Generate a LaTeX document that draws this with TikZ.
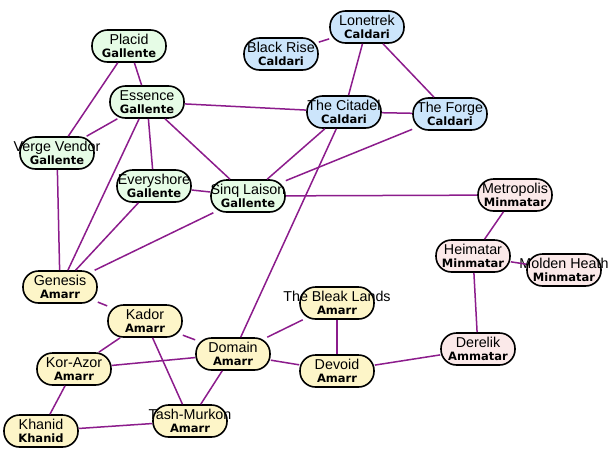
\documentclass[tikz,border=0pt]{standalone}
\usepackage{fontspec}
\setmainfont{Liberation Sans}
\newfontfamily\dvfont{DejaVu Sans}
\newcommand\zc[1]{\makebox[0pt]{#1}}
\newcommand\sys[2]{\zc{#1}\\[-1.5pt]\zc{\dvfont\bfseries\fontsize{11.5}{13}\selectfont #2}}
\definecolor{gfill}{HTML}{E6FCE6}
\definecolor{bfill}{HTML}{CCE5FB}
\definecolor{pfill}{HTML}{FBE9E9}
\definecolor{yfill}{HTML}{FDF5C8}
\definecolor{edgec}{RGB}{140,28,140}
\tikzset{
  sysbox/.style={draw=black, line width=1.6pt, rounded corners=15.5pt,
    minimum width=74pt, minimum height=32pt, inner sep=0pt, align=center,
    font=\fontsize{14.3}{14.5}\selectfont},
  gal/.style={sysbox, fill=gfill},
  cal/.style={sysbox, fill=bfill},
  minm/.style={sysbox, fill=pfill},
  amr/.style={sysbox, fill=yfill},
  link/.style={draw=edgec, line width=1.5pt}
}
\begin{document}
\begin{tikzpicture}[x=1pt,y=-1pt]
\useasboundingbox[fill=white] (0,0) rectangle (608,453);
% Gallente
\node[gal] (placid) at (129,46) {\sys{Placid}{Gallente}};
\node[gal] (essence) at (147,102) {\sys{Essence}{Gallente}};
\node[gal] (verge) at (57,153) {\sys{Verge Vendor}{Gallente}};
\node[gal] (every) at (154,186) {\sys{Everyshore}{Gallente}};
\node[gal] (sinq) at (248,196) {\sys{Sinq Laison}{Gallente}};
% Caldari
\node[cal] (lone) at (367,27) {\sys{Lonetrek}{Caldari}};
\node[cal] (black) at (281,54) {\sys{Black Rise}{Caldari}};
\node[cal] (citadel) at (344,112) {\sys{The Citadel}{Caldari}};
\node[cal] (forge) at (450,114) {\sys{The Forge}{Caldari}};
% Minmatar
\node[minm] (metro) at (515,195) {\sys{Metropolis}{Minmatar}};
\node[minm] (heim) at (473,256) {\sys{Heimatar}{Minmatar}};
\node[minm] (molden) at (564,270) {\sys{Molden Heath}{Minmatar}};
\node[minm] (derelik) at (478,349) {\sys{Derelik}{Ammatar}};
% Amarr
\node[amr] (genesis) at (60,287) {\sys{Genesis}{Amarr}};
\node[amr] (kador) at (145,321) {\sys{Kador}{Amarr}};
\node[amr] (korazor) at (74,369) {\sys{Kor-Azor}{Amarr}};
\node[amr] (khanid) at (41,431) {\sys{Khanid}{Khanid}};
\node[amr] (tash) at (190,421) {\sys{Tash-Murkon}{Amarr}};
\node[amr] (domain) at (233,354) {\sys{Domain}{Amarr}};
\node[amr] (bleak) at (337,303) {\sys{The Bleak Lands}{Amarr}};
\node[amr] (devoid) at (337,371) {\sys{Devoid}{Amarr}};
% Edges
\draw[link] (placid) -- (essence);
\draw[link] (placid) -- (verge);
\draw[link] (essence) -- (verge);
\draw[link] (essence) -- (citadel);
\draw[link] (essence) -- (every);
\draw[link] (essence) -- (sinq);
\draw[link] (essence) -- (genesis);
\draw[link] (verge) -- (genesis);
\draw[link] (every) -- (sinq);
\draw[link] (every) -- (genesis);
\draw[link] (sinq) -- (genesis);
\draw[link] (sinq) -- (citadel);
\draw[link] (sinq) -- (forge);
\draw[link] (sinq) -- (metro);
\draw[link] (lone) -- (black);
\draw[link] (lone) -- (citadel);
\draw[link] (lone) -- (forge);
\draw[link] (citadel) -- (forge);
\draw[link] (citadel) -- (domain);
\draw[link] (metro) -- (heim);
\draw[link] (heim) -- (molden);
\draw[link] (heim) -- (derelik);
\draw[link] (genesis) -- (kador);
\draw[link] (kador) -- (korazor);
\draw[link] (kador) -- (domain);
\draw[link] (kador) -- (tash);
\draw[link] (korazor) -- (domain);
\draw[link] (korazor) -- (khanid);
\draw[link] (khanid) -- (tash);
\draw[link] (tash) -- (domain);
\draw[link] (domain) -- (bleak);
\draw[link] (domain) -- (devoid);
\draw[link] (bleak) -- (devoid);
\draw[link] (devoid) -- (derelik);
\end{tikzpicture}
\end{document}
